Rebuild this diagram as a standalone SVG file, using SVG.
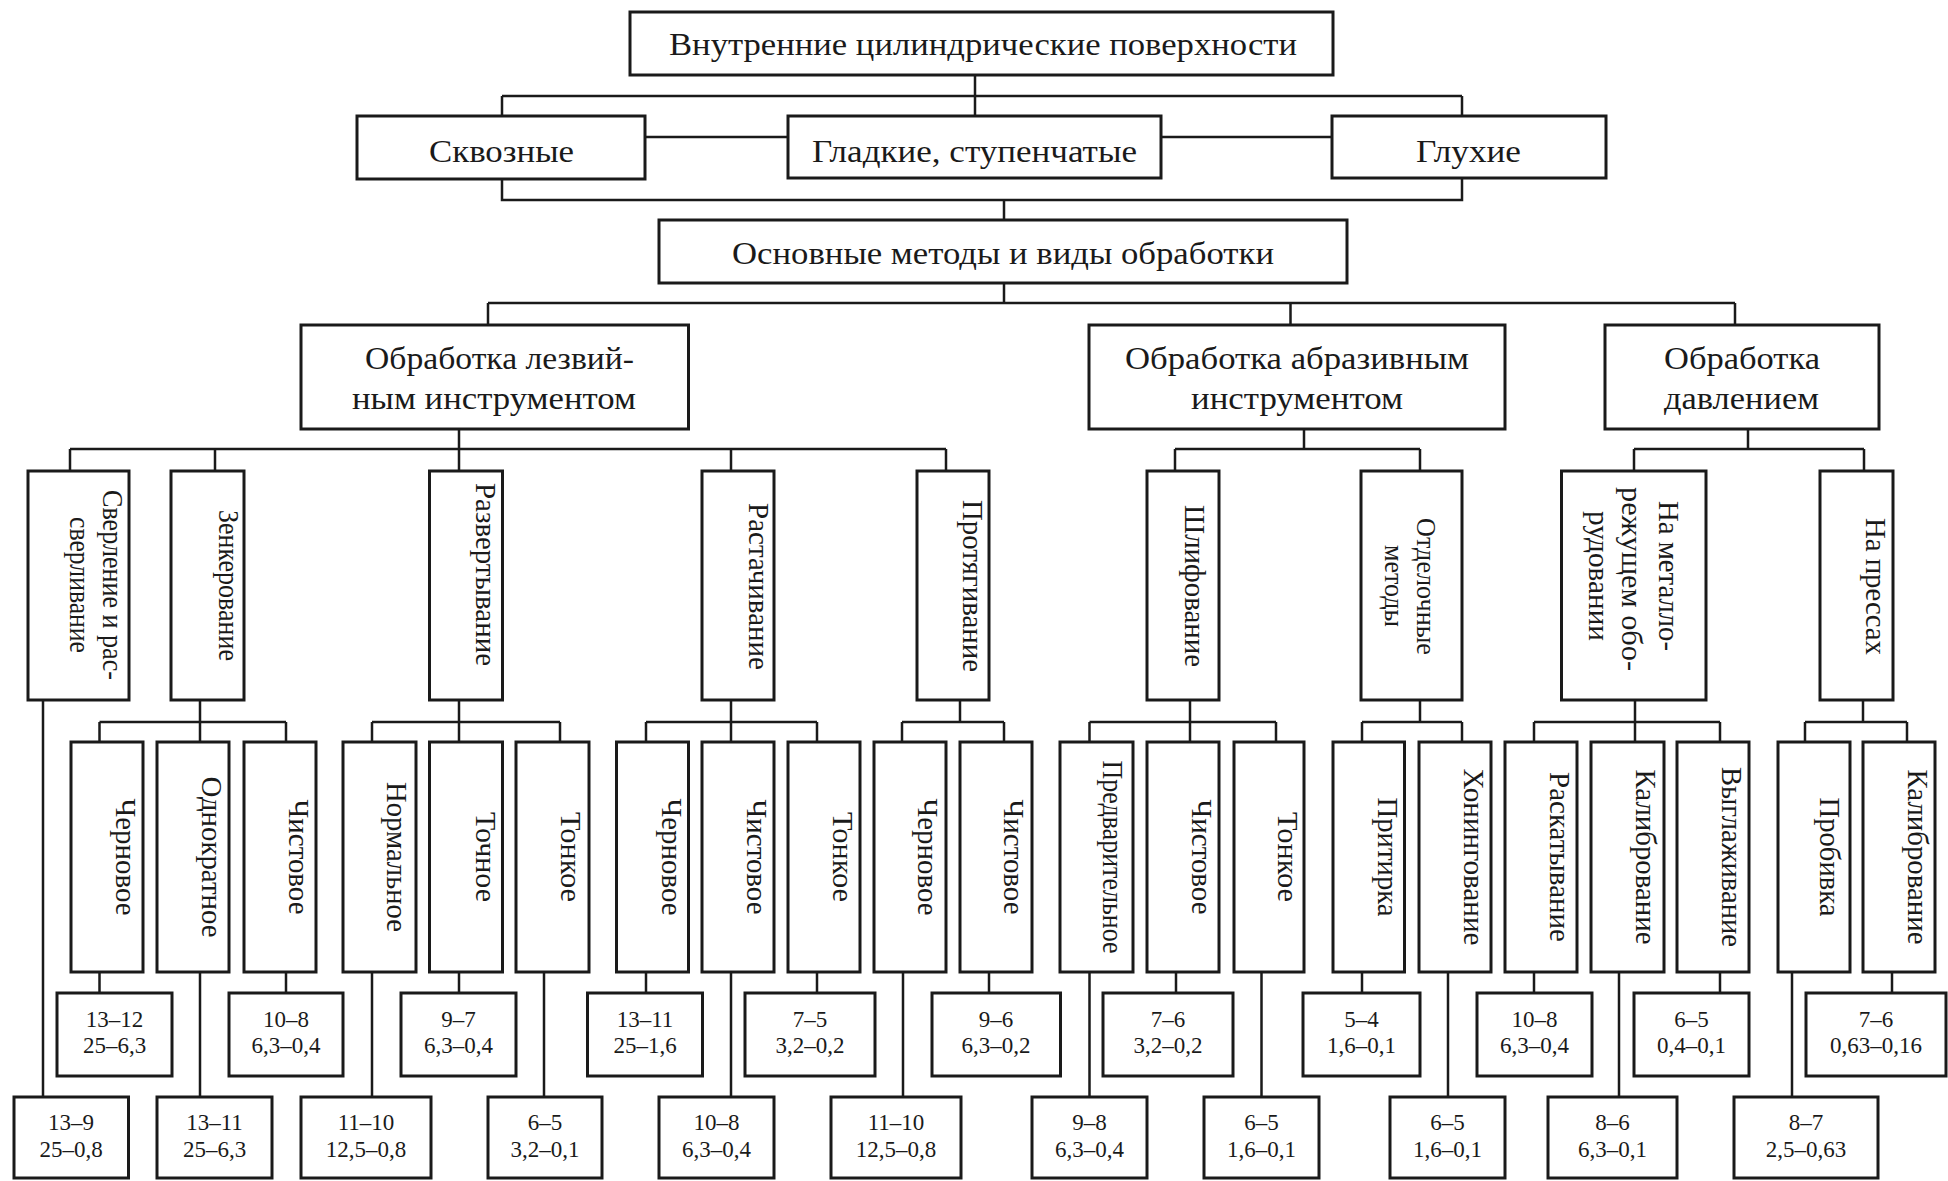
<svg xmlns="http://www.w3.org/2000/svg" width="1948" height="1181" viewBox="0 0 1948 1181">
<style>
.bg{fill:#fff}
.box{fill:#fff;stroke:#1a1a1a;stroke-width:3}
.ln{fill:none;stroke:#1a1a1a;stroke-width:2.5}
.t{font-family:"Liberation Serif","Times New Roman",serif;fill:#1a1a1a;text-anchor:middle}
.h{font-size:31px}
.v{font-size:30px}
.vs{font-size:28px}
.n{font-size:23px}
</style>
<rect class="bg" x="0" y="0" width="1948" height="1181"/>
<g id="connectors" class="ln">
<path d="M975 75V116M502 96H1462M502 96V116M1462 96V116M645 137H788M1161 137H1332M502 179V200H1462V178M1004 200V220M1004 283V303M488 303H1735M488 303V325M1290.5 303V325M1735 303V325"/>
<path d="M459 429V471M70 449H946M70 449V471M215 449V471M731 449V471M946 449V471M1304 429V449M1175 449H1420M1175 449V471M1420 449V471M1748 429V449M1634 449H1864M1634 449V471M1864 449V471"/>
<path d="M200 700V742M99.5 722H286M99.5 722V742M286 722V742M459 700V742M372 722H560M372 722V742M560 722V742M731 700V742M646 722H817M646 722V742M817 722V742M960 700V722M902 722H1004M902 722V742M1004 722V742M1190 700V742M1089.5 722H1276M1089.5 722V742M1276 722V742M1420 700V722M1362 722H1462M1362 722V742M1462 722V742M1635 700V742M1534 722H1720M1534 722V742M1720 722V742M1863 700V722M1805 722H1907M1805 722V742M1907 722V742"/>
<path d="M43 700V1097M99.5 972V993M286 972V993M459 972V993M646 972V993M817 972V993M989 972V993M1176 972V993M1362 972V993M1534 972V993M1720 972V993M1892 972V993"/>
<path d="M200 972V1097M372 972V1097M544 972V1097M731 972V1097M903 972V1097M1089.5 972V1097M1261.5 972V1097M1448 972V1097M1619 972V1097M1792 972V1097"/>
</g>
<g id="n-root"><rect class="box" x="630" y="12" width="703" height="63"/><text class="t h" x="983" y="55" textLength="628" lengthAdjust="spacingAndGlyphs">Внутренние цилиндрические поверхности</text></g>
<g id="n-skvoz"><rect class="box" x="357" y="116" width="288" height="63"/><text class="t h" x="501.5" y="162" textLength="145" lengthAdjust="spacingAndGlyphs">Сквозные</text></g>
<g id="n-glad"><rect class="box" x="788" y="116" width="373" height="62"/><text class="t h" x="974.5" y="162" textLength="325" lengthAdjust="spacingAndGlyphs">Гладкие, ступенчатые</text></g>
<g id="n-gluh"><rect class="box" x="1332" y="116" width="274" height="62"/><text class="t h" x="1468.5" y="162" textLength="105" lengthAdjust="spacingAndGlyphs">Глухие</text></g>
<g id="n-osn"><rect class="box" x="659" y="220" width="688" height="63"/><text class="t h" x="1003" y="264" textLength="542" lengthAdjust="spacingAndGlyphs">Основные методы и виды обработки</text></g>
<g id="n-lezv"><rect class="box" x="301" y="325" width="387.5" height="104"/><text class="t h" x="499.5" y="369" textLength="269" lengthAdjust="spacingAndGlyphs">Обработка лезвий-</text><text class="t h" x="494" y="409" textLength="284" lengthAdjust="spacingAndGlyphs">ным инструментом</text></g>
<g id="n-abr"><rect class="box" x="1089" y="325" width="416" height="104"/><text class="t h" x="1297" y="369" textLength="344" lengthAdjust="spacingAndGlyphs">Обработка абразивным</text><text class="t h" x="1297" y="409" textLength="212" lengthAdjust="spacingAndGlyphs">инструментом</text></g>
<g id="n-davl"><rect class="box" x="1605" y="325" width="274" height="104"/><text class="t h" x="1742" y="369" textLength="156" lengthAdjust="spacingAndGlyphs">Обработка</text><text class="t h" x="1741.5" y="409" textLength="155" lengthAdjust="spacingAndGlyphs">давлением</text></g>

<g id="n-sverl"><rect class="box" x="28" y="471" width="101" height="229"/><text class="t v" transform="translate(103 585) rotate(90)" textLength="190" lengthAdjust="spacingAndGlyphs">Сверление и рас-</text><text class="t v" transform="translate(70 585) rotate(90)" textLength="136" lengthAdjust="spacingAndGlyphs">сверливание</text></g>
<g id="n-zenk"><rect class="box" x="171" y="471" width="73" height="229"/><text class="t v" transform="translate(219 585.5) rotate(90)" textLength="151" lengthAdjust="spacingAndGlyphs">Зенкерование</text></g>
<g id="n-razv"><rect class="box" x="429.5" y="471" width="73" height="229"/><text class="t v" transform="translate(476 574.5) rotate(90)" textLength="183" lengthAdjust="spacingAndGlyphs">Развертывание</text></g>
<g id="n-rast"><rect class="box" x="702" y="471" width="72" height="229"/><text class="t v" transform="translate(749 586.5) rotate(90)" textLength="167" lengthAdjust="spacingAndGlyphs">Растачивание</text></g>
<g id="n-prot"><rect class="box" x="917" y="471" width="72" height="229"/><text class="t v" transform="translate(962.5 586) rotate(90)" textLength="172" lengthAdjust="spacingAndGlyphs">Протягивание</text></g>
<g id="n-shlif"><rect class="box" x="1147" y="471" width="72" height="229"/><text class="t v" transform="translate(1185 586) rotate(90)" textLength="162" lengthAdjust="spacingAndGlyphs">Шлифование</text></g>
<g id="n-otd"><rect class="box" x="1361" y="471" width="101" height="229"/><text class="t vs" transform="translate(1417 586.5) rotate(90)" textLength="137" lengthAdjust="spacingAndGlyphs">Отделочные</text><text class="t vs" transform="translate(1385 586) rotate(90)" textLength="82" lengthAdjust="spacingAndGlyphs">методы</text></g>
<g id="n-metal"><rect class="box" x="1561.5" y="471" width="144.5" height="229"/><text class="t v" transform="translate(1659 576) rotate(90)" textLength="150" lengthAdjust="spacingAndGlyphs">На металло-</text><text class="t v" transform="translate(1621.5 579) rotate(90)" textLength="184" lengthAdjust="spacingAndGlyphs">режущем обо-</text><text class="t v" transform="translate(1588.5 576) rotate(90)" textLength="130" lengthAdjust="spacingAndGlyphs">рудовании</text></g>
<g id="n-press"><rect class="box" x="1820" y="471" width="73" height="229"/><text class="t v" transform="translate(1865.5 586.5) rotate(90)" textLength="137" lengthAdjust="spacingAndGlyphs">На прессах</text></g>

<g id="n-zenk-cher"><rect class="box" x="71" y="742" width="72" height="230"/><text class="t v" transform="translate(116 857) rotate(90)" textLength="117" lengthAdjust="spacingAndGlyphs">Черновое</text></g>
<g id="n-zenk-odn"><rect class="box" x="157" y="742" width="72" height="230"/><text class="t v" transform="translate(202 857) rotate(90)" textLength="161" lengthAdjust="spacingAndGlyphs">Однократное</text></g>
<g id="n-zenk-chist"><rect class="box" x="244" y="742" width="72" height="230"/><text class="t v" transform="translate(289 857) rotate(90)" textLength="115" lengthAdjust="spacingAndGlyphs">Чистовое</text></g>
<g id="n-razv-norm"><rect class="box" x="343" y="742" width="73" height="230"/><text class="t v" transform="translate(387 857) rotate(90)" textLength="150" lengthAdjust="spacingAndGlyphs">Нормальное</text></g>
<g id="n-razv-toch"><rect class="box" x="429.5" y="742" width="73" height="230"/><text class="t v" transform="translate(476 857) rotate(90)" textLength="90" lengthAdjust="spacingAndGlyphs">Точное</text></g>
<g id="n-razv-tonk"><rect class="box" x="516" y="742" width="73" height="230"/><text class="t v" transform="translate(561 857) rotate(90)" textLength="90" lengthAdjust="spacingAndGlyphs">Тонкое</text></g>
<g id="n-rast-cher"><rect class="box" x="616.5" y="742" width="72" height="230"/><text class="t v" transform="translate(661.5 857) rotate(90)" textLength="117" lengthAdjust="spacingAndGlyphs">Черновое</text></g>
<g id="n-rast-chist"><rect class="box" x="702" y="742" width="72" height="230"/><text class="t v" transform="translate(747 857) rotate(90)" textLength="115" lengthAdjust="spacingAndGlyphs">Чистовое</text></g>
<g id="n-rast-tonk"><rect class="box" x="788" y="742" width="72" height="230"/><text class="t v" transform="translate(833 857) rotate(90)" textLength="90" lengthAdjust="spacingAndGlyphs">Тонкое</text></g>
<g id="n-prot-cher"><rect class="box" x="874" y="742" width="72" height="230"/><text class="t v" transform="translate(918 857) rotate(90)" textLength="117" lengthAdjust="spacingAndGlyphs">Черновое</text></g>
<g id="n-prot-chist"><rect class="box" x="960" y="742" width="72" height="230"/><text class="t v" transform="translate(1004 857) rotate(90)" textLength="115" lengthAdjust="spacingAndGlyphs">Чистовое</text></g>
<g id="n-shl-pred"><rect class="box" x="1060" y="742" width="73" height="230"/><text class="t v" transform="translate(1103 857) rotate(90)" textLength="193" lengthAdjust="spacingAndGlyphs">Предварительное</text></g>
<g id="n-shl-chist"><rect class="box" x="1147" y="742" width="72" height="230"/><text class="t v" transform="translate(1192 857) rotate(90)" textLength="115" lengthAdjust="spacingAndGlyphs">Чистовое</text></g>
<g id="n-shl-tonk"><rect class="box" x="1234" y="742" width="70" height="230"/><text class="t v" transform="translate(1278 857) rotate(90)" textLength="90" lengthAdjust="spacingAndGlyphs">Тонкое</text></g>
<g id="n-otd-prit"><rect class="box" x="1333" y="742" width="71.5" height="230"/><text class="t v" transform="translate(1378 857) rotate(90)" textLength="119" lengthAdjust="spacingAndGlyphs">Притирка</text></g>
<g id="n-otd-hon"><rect class="box" x="1419" y="742" width="72" height="230"/><text class="t v" transform="translate(1464 857) rotate(90)" textLength="177" lengthAdjust="spacingAndGlyphs">Хонингование</text></g>
<g id="n-met-rask"><rect class="box" x="1505" y="742" width="72" height="230"/><text class="t v" transform="translate(1550 857) rotate(90)" textLength="170" lengthAdjust="spacingAndGlyphs">Раскатывание</text></g>
<g id="n-met-kal"><rect class="box" x="1591" y="742" width="73" height="230"/><text class="t v" transform="translate(1636 857) rotate(90)" textLength="175" lengthAdjust="spacingAndGlyphs">Калибрование</text></g>
<g id="n-met-vygl"><rect class="box" x="1677" y="742" width="72" height="230"/><text class="t v" transform="translate(1722 857) rotate(90)" textLength="180" lengthAdjust="spacingAndGlyphs">Выглаживание</text></g>
<g id="n-pr-prob"><rect class="box" x="1778" y="742" width="72" height="230"/><text class="t v" transform="translate(1820 857) rotate(90)" textLength="119" lengthAdjust="spacingAndGlyphs">Пробивка</text></g>
<g id="n-pr-kal"><rect class="box" x="1863" y="742" width="72" height="230"/><text class="t v" transform="translate(1908 857) rotate(90)" textLength="175" lengthAdjust="spacingAndGlyphs">Калибрование</text></g>

<g id="v-m1"><rect class="box" x="57" y="993" width="115" height="83"/><text class="t n" x="114.5" y="1027">13–12</text><text class="t n" x="114.5" y="1053">25–6,3</text></g>
<g id="v-m2"><rect class="box" x="229" y="993" width="114" height="83"/><text class="t n" x="286" y="1027">10–8</text><text class="t n" x="286" y="1053">6,3–0,4</text></g>
<g id="v-m3"><rect class="box" x="401" y="993" width="115" height="83"/><text class="t n" x="458.5" y="1027">9–7</text><text class="t n" x="458.5" y="1053">6,3–0,4</text></g>
<g id="v-m4"><rect class="box" x="587.5" y="993" width="115" height="83"/><text class="t n" x="645" y="1027">13–11</text><text class="t n" x="645" y="1053">25–1,6</text></g>
<g id="v-m5"><rect class="box" x="745" y="993" width="130" height="83"/><text class="t n" x="810" y="1027">7–5</text><text class="t n" x="810" y="1053">3,2–0,2</text></g>
<g id="v-m6"><rect class="box" x="932" y="993" width="128.5" height="83"/><text class="t n" x="996" y="1027">9–6</text><text class="t n" x="996" y="1053">6,3–0,2</text></g>
<g id="v-m7"><rect class="box" x="1103" y="993" width="130" height="83"/><text class="t n" x="1168" y="1027">7–6</text><text class="t n" x="1168" y="1053">3,2–0,2</text></g>
<g id="v-m8"><rect class="box" x="1303" y="993" width="117" height="83"/><text class="t n" x="1361.5" y="1027">5–4</text><text class="t n" x="1361.5" y="1053">1,6–0,1</text></g>
<g id="v-m9"><rect class="box" x="1477" y="993" width="115" height="83"/><text class="t n" x="1534.5" y="1027">10–8</text><text class="t n" x="1534.5" y="1053">6,3–0,4</text></g>
<g id="v-m10"><rect class="box" x="1634" y="993" width="115" height="83"/><text class="t n" x="1691.5" y="1027">6–5</text><text class="t n" x="1691.5" y="1053">0,4–0,1</text></g>
<g id="v-m11"><rect class="box" x="1806" y="993" width="140" height="83"/><text class="t n" x="1876" y="1027">7–6</text><text class="t n" x="1876" y="1053">0,63–0,16</text></g>

<g id="v-b1"><rect class="box" x="14" y="1097" width="114.5" height="81"/><text class="t n" x="71" y="1130">13–9</text><text class="t n" x="71" y="1157">25–0,8</text></g>
<g id="v-b2"><rect class="box" x="157" y="1097" width="115" height="81"/><text class="t n" x="214.5" y="1130">13–11</text><text class="t n" x="214.5" y="1157">25–6,3</text></g>
<g id="v-b3"><rect class="box" x="301" y="1097" width="130" height="81"/><text class="t n" x="366" y="1130">11–10</text><text class="t n" x="366" y="1157">12,5–0,8</text></g>
<g id="v-b4"><rect class="box" x="488" y="1097" width="114" height="81"/><text class="t n" x="545" y="1130">6–5</text><text class="t n" x="545" y="1157">3,2–0,1</text></g>
<g id="v-b5"><rect class="box" x="659" y="1097" width="115" height="81"/><text class="t n" x="716.5" y="1130">10–8</text><text class="t n" x="716.5" y="1157">6,3–0,4</text></g>
<g id="v-b6"><rect class="box" x="831" y="1097" width="130" height="81"/><text class="t n" x="896" y="1130">11–10</text><text class="t n" x="896" y="1157">12,5–0,8</text></g>
<g id="v-b7"><rect class="box" x="1032" y="1097" width="115" height="81"/><text class="t n" x="1089.5" y="1130">9–8</text><text class="t n" x="1089.5" y="1157">6,3–0,4</text></g>
<g id="v-b8"><rect class="box" x="1204" y="1097" width="115" height="81"/><text class="t n" x="1261.5" y="1130">6–5</text><text class="t n" x="1261.5" y="1157">1,6–0,1</text></g>
<g id="v-b9"><rect class="box" x="1390" y="1097" width="115" height="81"/><text class="t n" x="1447.5" y="1130">6–5</text><text class="t n" x="1447.5" y="1157">1,6–0,1</text></g>
<g id="v-b10"><rect class="box" x="1548" y="1097" width="129" height="81"/><text class="t n" x="1612.5" y="1130">8–6</text><text class="t n" x="1612.5" y="1157">6,3–0,1</text></g>
<g id="v-b11"><rect class="box" x="1734" y="1097" width="144" height="81"/><text class="t n" x="1806" y="1130">8–7</text><text class="t n" x="1806" y="1157">2,5–0,63</text></g>
</svg>
